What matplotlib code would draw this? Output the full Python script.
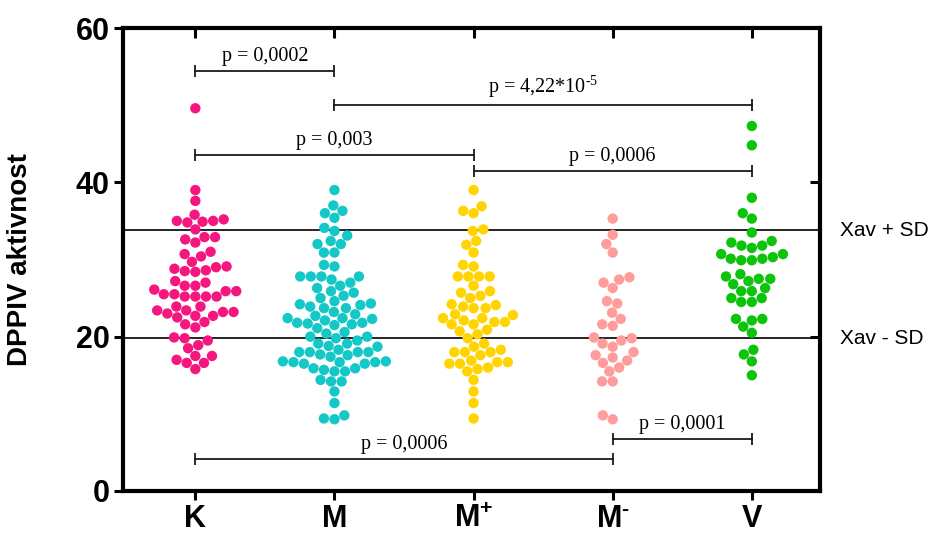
import matplotlib
matplotlib.use("Agg")
import matplotlib.pyplot as plt
import matplotlib.transforms as mtransforms
import numpy as np

plt.rcParams['font.family'] = ['Liberation Sans', 'DejaVu Sans']
plt.rcParams['mathtext.fontset'] = 'custom'
plt.rcParams['mathtext.rm'] = 'Liberation Serif'
plt.rcParams['mathtext.bf'] = 'Liberation Sans:bold'

# DPPIV activity per group
groups = ['K', 'M', 'M+', 'M-', 'V']
tick_labels = ['K', 'M', r'M$^{\mathbf{+}}$', 'M$^{\\mathbf{\u2010}}$', 'V']
colors = ['#F5177F', '#14C8C8', '#FFD400', '#FF9C9C', '#0CC40C']

k_vals = [49.6, 39.0, 37.6, 35.8, 35.0, 35.2, 34.9, 35.0, 34.8, 33.9, 32.9, 32.6,
          32.2, 32.9, 31.0, 30.4, 30.7, 29.1, 28.8, 28.5, 28.4, 28.6, 29.0, 29.7,
          27.0, 26.6, 26.6, 27.2, 25.9, 25.5, 25.2, 25.2, 25.2, 25.2, 25.5, 25.9,
          26.1, 23.9, 23.9, 23.4, 23.2, 22.7, 22.5, 22.7, 23.0, 23.2, 23.4, 21.6,
          21.2, 21.9, 19.9, 19.5, 19.8, 18.9, 18.5, 17.5, 17.5, 16.6, 16.6, 17.0,
          15.8]
m_vals = [39.0, 37.0, 36.3, 36.0, 35.4, 33.7, 34.1, 33.1, 32.0, 32.4, 32.0, 30.9,
          30.9, 29.3, 29.1, 27.8, 27.8, 27.8, 27.8, 27.4, 27.0, 26.3, 26.6, 25.9,
          25.7, 25.0, 24.6, 25.3, 24.1, 23.9, 23.7, 23.7, 24.2, 24.3, 22.9, 23.2,
          22.4, 22.4, 21.8, 21.7, 21.6, 21.8, 22.1, 21.5, 22.3, 22.7, 21.1, 20.4,
          20.6, 20.0, 19.5, 19.1, 18.8, 19.1, 19.8, 20.0, 18.7, 18.0, 18.0, 17.6,
          17.4, 17.7, 18.0, 18.0, 18.3, 16.7, 16.5, 15.9, 15.7, 16.8, 15.5, 16.8,
          15.9, 15.5, 16.5, 16.7, 16.7, 14.4, 14.2, 14.2, 12.9, 11.4, 9.8, 9.3, 9.4]
mp_vals = [39.0, 36.9, 36.3, 36.0, 33.7, 33.9, 32.4, 31.9, 30.9, 29.1, 29.3, 27.8,
           27.8, 27.8, 27.8, 26.6, 25.9, 25.7, 25.3, 25.0, 24.1, 23.9, 23.7, 23.7,
           24.2, 22.8, 22.9, 21.9, 21.6, 22.4, 22.1, 22.4, 21.6, 21.9, 20.7, 20.9,
           20.3, 19.8, 19.1, 18.3, 18.0, 18.0, 18.0, 18.7, 17.6, 16.9, 16.7, 16.5,
           15.8, 16.0, 15.5, 16.5, 16.7, 14.4, 12.9, 11.4, 9.4]
mm_vals = [35.3, 33.2, 32.0, 30.9, 27.4, 26.3, 27.0, 27.7, 24.6, 24.3, 23.1, 22.3,
           21.6, 21.4, 19.9, 19.1, 19.5, 19.8, 18.7, 18.0, 17.6, 17.3, 16.9, 16.6,
           15.5, 16.0, 14.2, 14.2, 9.3, 9.8]
v_vals = [47.3, 44.8, 38.0, 35.3, 36.0, 33.5, 32.4, 31.8, 31.5, 31.8, 32.2, 30.7,
          30.1, 29.9, 29.9, 30.1, 30.3, 30.7, 27.5, 27.8, 28.1, 27.2, 27.5, 26.8,
          26.3, 25.9, 25.9, 25.0, 24.5, 24.5, 25.0, 22.3, 22.1, 22.3, 21.3, 20.5,
          17.7, 18.3, 16.8, 15.0]
all_vals = [k_vals, m_vals, mp_vals, mm_vals, v_vals]

# reference band (mean +/- SD)
band_vals = [33.8, 19.8]
band_labels = ['Xav + SD', 'Xav - SD']

# significance brackets: (group a, group b, height, label)
brackets = [
    (0, 1, 54.4, 'p = 0,0002'),
    (1, 4, 50.0, 'p = 4,22*10$^{\u2010 5}$'),
    (0, 2, 43.5, 'p = 0,003'),
    (2, 4, 41.5, 'p = 0,0006'),
    (3, 4, 6.7, 'p = 0,0001'),
    (0, 3, 4.2, 'p = 0,0006'),
]

W, H = 941, 535
fig = plt.figure(figsize=(W / 100, H / 100), dpi=100)
ax_l, ax_r, ax_b, ax_t = 123 / W, 820 / W, (H - 491) / H, (H - 28) / H
ax = fig.add_axes([ax_l, ax_b, ax_r - ax_l, ax_t - ax_b])
xlim = (-0.52, 4.49)
ylim = (0, 60)
ax.set_xlim(*xlim)
ax.set_ylim(*ylim)

px_x = (ax_r - ax_l) * W / (xlim[1] - xlim[0])
px_y = (ax_t - ax_b) * H / (ylim[1] - ylim[0])


def swarm(vals, d):
    """Greedy beeswarm offsets (pixels) so that dots of diameter d don't overlap."""
    ys = np.asarray(vals) * px_y
    xs = np.zeros(len(ys))
    placed = []
    for i in np.argsort(ys):
        y = ys[i]
        cands = [0.0]
        for px, py in placed:
            dy = abs(y - py)
            if dy < d:
                dx = np.sqrt(d * d - dy * dy)
                cands += [px + dx, px - dx]
        cands.sort(key=lambda c: (abs(c), c))
        for c in cands:
            if all((c - px) ** 2 + (y - py) ** 2 >= d * d - 1e-6 for px, py in placed):
                xs[i] = c
                break
        placed.append((xs[i], y))
    return xs


for gi, (vals, col) in enumerate(zip(all_vals, colors)):
    offs = swarm(vals, 10.6) / px_x
    ax.scatter(gi + offs, vals, s=56, color=col, edgecolors='none', zorder=3)

for yv in band_vals:
    ax.axhline(yv, color='black', lw=1.2, zorder=2)

trans = mtransforms.blended_transform_factory(ax.transAxes, ax.transData)
for yv, lab in zip(band_vals, band_labels):
    ax.text(1.028, yv, lab, transform=trans, ha='left', va='center',
            fontsize=15, clip_on=False)

for a, b, yv, lab in brackets:
    ax.plot([a, b], [yv, yv], color='#1a1a1a', lw=1.3, marker='|',
            markersize=9, mew=1.3, zorder=2)
    ax.annotate(lab, xy=((a + b) / 2, yv), xytext=(0, 3.5),
                textcoords='offset points', ha='center', va='bottom',
                fontsize=14.5, family='Liberation Serif')

# frame and ticks
for sp in ax.spines.values():
    sp.set_linewidth(3)
ax.set_yticks([0, 20, 40, 60])
ax.set_xticks(range(len(groups)))
ax.set_xticklabels(tick_labels)
ax.tick_params(axis='both', direction='out', length=6.5, width=2.2,
               labelsize=22)
ax.tick_params(axis='x', pad=3)
ax.tick_params(axis='y', pad=3)
for t in ax.get_xticklabels() + ax.get_yticklabels():
    t.set_fontweight('bold')

top = ax.secondary_xaxis('top')
top.set_xticks(range(len(groups)))
top.tick_params(direction='in', length=7, width=2.2, labeltop=False)
top.spines['top'].set_visible(False)
right = ax.secondary_yaxis('right')
right.set_yticks([20, 40])
right.tick_params(direction='in', length=7, width=2.2, labelright=False)
right.spines['right'].set_visible(False)

ax.set_ylabel('DPPIV aktivnost', fontsize=20, fontweight='bold')
ax.yaxis.set_label_coords(-0.129, 0.5)

fig.savefig('out.png', dpi=100)
